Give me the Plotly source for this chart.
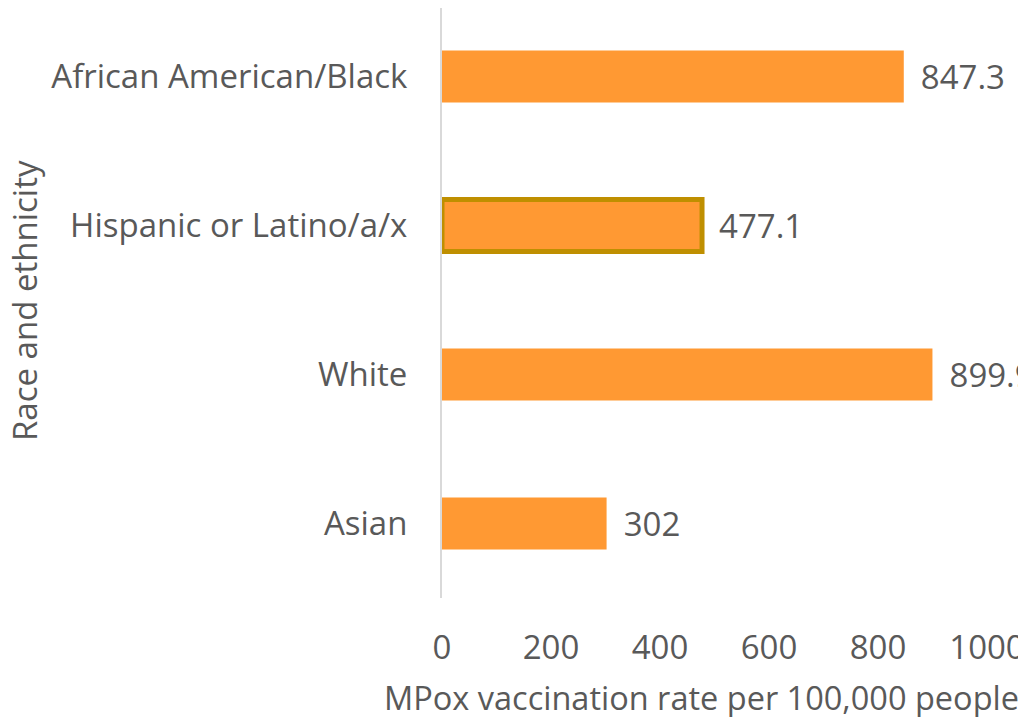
import plotly.graph_objects as go

categories = ["African American/Black", "Hispanic or Latino/a/x", "White", "Asian"]
values = [847.3, 477.1, 899.9, 302]
labels = ["847.3", "477.1", "899.9", "302"]
x_ticks = [0, 200, 400, 600, 800, 1000]
x_title = "MPox vaccination rate per 100,000 people"
y_title = "Race and ethnicity"

bar_fill = "#FF9933"
border_colors = ["#FF9933", "#BF8F00", "#FF9933", "#FF9933"]
border_widths = [0, 5, 0, 0]
text_color = "#595959"
font_family = "Open Sans, Liberation Sans, sans-serif"
fs = 33

fig = go.Figure(go.Bar(
    y=categories,
    x=values,
    orientation="h",
    width=0.35,
    marker=dict(color=bar_fill, line=dict(color=border_colors, width=border_widths)),
    text=["\u00a0\u2009" + t for t in labels],
    textposition="outside",
    textfont=dict(size=fs, color=text_color, family=font_family),
    cliponaxis=False,
))

fig.add_annotation(
    text=x_title, xref="paper", yref="paper", x=0.477, y=-0.168,
    xanchor="center", yanchor="middle", showarrow=False,
    font=dict(size=32.5, color=text_color, family=font_family),
)
fig.add_annotation(
    text=y_title, xref="paper", yref="paper", x=-0.767, y=0.505,
    xanchor="center", yanchor="middle", showarrow=False, textangle=-90,
    font=dict(size=fs, color=text_color, family=font_family),
)

fig.update_layout(
    width=1018, height=709,
    margin=dict(l=434, r=39, t=0, b=119),
    paper_bgcolor="white", plot_bgcolor="white",
    showlegend=False,
    font=dict(family=font_family, color=text_color, size=fs),
    xaxis=dict(
        range=[0, 1000], tickvals=x_ticks, showgrid=False, zeroline=False,
        showline=False, ticks="outside", ticklen=20, tickcolor="rgba(0,0,0,0)",
        tickfont=dict(size=fs, color=text_color), automargin=False,
    ),
    yaxis=dict(
        categoryorder="array", categoryarray=categories,
        range=[3.5, -0.46], autorange=False,
        showgrid=False, zeroline=False, showline=True, linecolor="#D9D9D9", linewidth=2,
        ticks="outside", ticklen=26, tickcolor="rgba(0,0,0,0)", automargin=False,
        tickfont=dict(size=fs, color=text_color),
    ),
)

fig.write_html("out.html")
